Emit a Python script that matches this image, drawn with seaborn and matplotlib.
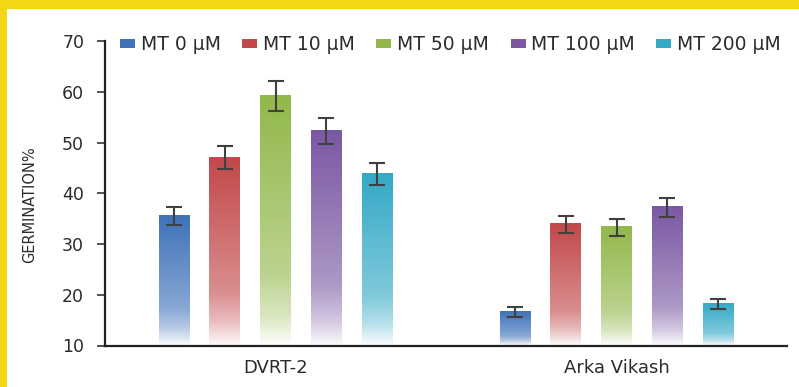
import numpy as np
import pandas as pd
import matplotlib
matplotlib.use("Agg")
import matplotlib.pyplot as plt
from matplotlib.colors import LinearSegmentedColormap, to_rgb
from matplotlib.patches import Rectangle, Patch
import seaborn as sns

# Germination data (mean and error) per cultivar and melatonin dose
cultivars = ["DVRT-2", "Arka Vikash"]
treatments = ["MT 0 µM", "MT 10 µM", "MT 50 µM", "MT 100 µM", "MT 200 µM"]
dvrt2_mean = [35.5, 47.0, 59.2, 52.3, 43.8]
dvrt2_err = [1.8, 2.3, 2.9, 2.6, 2.1]
arka_mean = [16.6, 33.9, 33.3, 37.2, 18.2]
arka_err = [0.9, 1.7, 1.7, 1.9, 1.0]
bar_colors = ["#3f72b9", "#c2484a", "#92b84b", "#7a58a3", "#34a9c6"]

df = pd.DataFrame({
    "cultivar": np.repeat(cultivars, len(treatments)),
    "treatment": treatments * len(cultivars),
    "germination": dvrt2_mean + arka_mean,
    "err": dvrt2_err + arka_err,
})

sns.set_style("white")
plt.rcParams["font.family"] = ["DejaVu Sans"]
text_col = "#2b2b2b"

fig = plt.figure(figsize=(7.99, 3.87), dpi=100)
ax = fig.add_axes([105 / 799, 1 - 345.5 / 387, 682 / 799, 304.5 / 387])

sns.barplot(data=df, x="cultivar", y="germination", hue="treatment",
            hue_order=treatments, order=cultivars, palette=bar_colors,
            width=0.745, gap=0.4, errorbar=None, legend=False, ax=ax)

ymin, ymax = 10, 70
ax.set_ylim(ymin, ymax)
ax.set_xlim(-0.5, 1.5)


def gradient_cmap(color):
    c = np.array(to_rgb(color))
    w = np.ones(3)
    stops = [
        (0.0, c * 0.03 + w * 0.97),
        (0.12, c * 0.35 + w * 0.65),
        (0.28, c * 0.62 + w * 0.38),
        (0.65, c * 0.82 + w * 0.18),
        (1.0, c),
    ]
    return LinearSegmentedColormap.from_list("g", stops)


bar_containers = list(ax.containers)
grad = np.linspace(0, 1, 256).reshape(-1, 1)
for container, color in zip(bar_containers, bar_colors):
    cmap = gradient_cmap(color)
    for bar in container:
        x0 = bar.get_x()
        w = bar.get_width()
        top = bar.get_height()
        bar.set_facecolor("none")
        bar.set_edgecolor("none")
        ax.imshow(grad, cmap=cmap, origin="lower", aspect="auto",
                  extent=[x0, x0 + w, ymin, top], zorder=2, interpolation="bilinear")

# Error bars centred on each bar
means = {c: m for c, m in zip(cultivars, [dvrt2_mean, arka_mean])}
errs = {c: e for c, e in zip(cultivars, [dvrt2_err, arka_err])}
for ti, container in enumerate(bar_containers):
    xs = [bar.get_x() + bar.get_width() / 2 for bar in container]
    ys = [means[c][ti] for c in cultivars]
    es = [errs[c][ti] for c in cultivars]
    ax.errorbar(xs, ys, yerr=es, fmt="none", ecolor="#404040",
                elinewidth=1.5, capsize=5.5, capthick=1.5, zorder=4)

ax.set_xlim(-0.5, 1.5)
ax.set_ylim(ymin, ymax)

sns.despine(ax=ax)
for s in ["left", "bottom"]:
    ax.spines[s].set_color("#222222")
    ax.spines[s].set_linewidth(1.6)

ax.set_yticks(np.arange(10, 71, 10))
ax.tick_params(axis="y", direction="out", length=6, width=1.2, color="#333333",
               labelsize=12.5, labelcolor=text_col, pad=9, left=True)
ax.tick_params(axis="x", length=0, labelsize=13, labelcolor=text_col, pad=10)
ax.set_xlabel("")
ax.set_ylabel("")
fig.text(30 / 799, 1 - 205 / 387, "GERMINATION%", rotation=90, ha="center",
         va="center", fontsize=10.5, color=text_col)

handles = [Patch(facecolor=c, edgecolor="none") for c in bar_colors]
fig.legend(handles, treatments, loc="center", ncol=5,
           bbox_to_anchor=(450.5 / 799, 1 - 45 / 387), frameon=False,
           fontsize=13.5, handlelength=0.8, handleheight=0.35,
           handletextpad=0.3, columnspacing=1.15, labelcolor=text_col)

# Yellow page frame along the top and left edges
yellow = "#f3d712"
fig.patches.append(Rectangle((0, 1 - 9 / 387), 1, 9 / 387, transform=fig.transFigure,
                             facecolor=yellow, edgecolor="none", zorder=10))
fig.patches.append(Rectangle((0, 0), 7 / 799, 1, transform=fig.transFigure,
                             facecolor=yellow, edgecolor="none", zorder=10))

fig.savefig("out.png", dpi=100, facecolor="white")
